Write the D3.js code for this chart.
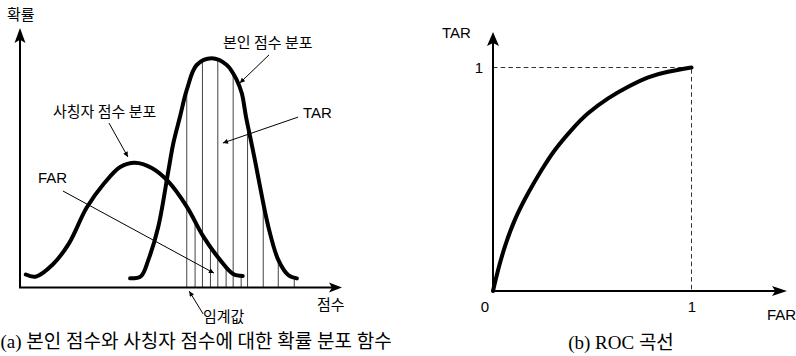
<!DOCTYPE html>
<html>
<head>
<meta charset="utf-8">
<script src="https://cdn.jsdelivr.net/npm/d3@7"></script>
<style>
  html, body { margin: 0; padding: 0; background: #fff; }
  svg { display: block; }
</style>
</head>
<body>
<svg id="chart" width="796" height="356"></svg>
<script>
// ---- (a) score distributions: score 0–10, probability 0–1 ----
const impostorScore = [0.15, 0.45, 1.0, 1.5, 2.05, 2.6, 3.1, 3.56, 4.1, 4.6, 5.18, 5.7, 6.22, 6.63, 6.93];
const impostorProb  = [0.052, 0.043, 0.095, 0.182, 0.33, 0.432, 0.5, 0.518, 0.495, 0.44, 0.335, 0.21, 0.113, 0.054, 0.046];

const genuineScore = [3.41, 3.75, 3.98, 4.29, 4.6, 4.76, 4.97, 5.18, 5.49, 5.96, 6.43, 6.74, 6.9, 7.03, 7.16, 7.31, 7.42, 7.73, 8.04, 8.35, 8.62];
const genuineProb  = [0.036, 0.045, 0.113, 0.251, 0.48, 0.599, 0.71, 0.821, 0.925, 0.953, 0.925, 0.863, 0.807, 0.71, 0.626, 0.529, 0.453, 0.251, 0.113, 0.05, 0.036];

const threshold = 5.18;
// hatching: TAR region (under genuine curve) and FAR region (under impostor curve)
const tarHatch = [5.18, 5.67, 6.15, 6.63, 7.08, 7.57, 8.04, 8.54];
const farHatch = [5.44, 5.92, 6.41, 6.88];

// ---- (b) ROC curve ----
const rocFar = [0, 0.025, 0.059, 0.109, 0.176, 0.244, 0.311, 0.395, 0.479, 0.58, 0.681, 0.782, 0.882, 1];
const rocTar = [0, 0.092, 0.196, 0.316, 0.436, 0.54, 0.63, 0.72, 0.795, 0.862, 0.914, 0.956, 0.981, 1];
const rocTicks = [1];

const impostor = impostorScore.map((s, i) => ({ s, p: impostorProb[i] }));
const genuine = genuineScore.map((s, i) => ({ s, p: genuineProb[i] }));
const roc = rocFar.map((f, i) => ({ f, t: rocTar[i] }));

const SANS = "'Liberation Sans', 'Noto Sans CJK KR', sans-serif";
const KR = "'Noto Sans CJK KR', sans-serif";
const SERIF = "'Liberation Serif', 'Noto Sans CJK KR', serif";

const svg = d3.select("#chart");
const defs = svg.append("defs");

defs.append("marker")
  .attr("id", "tip")
  .attr("viewBox", "0 0 10 10")
  .attr("refX", 10).attr("refY", 5)
  .attr("markerUnits", "userSpaceOnUse")
  .attr("markerWidth", 7).attr("markerHeight", 5)
  .attr("orient", "auto")
  .append("path").attr("d", "M0,0 L10,5 L0,10 Z").attr("fill", "#000");

// filled axis arrowhead with a slight notch, tip at (x, y), pointing at angle (deg)
function axisHead(g, x, y, angle, len, wid) {
  g.append("path")
    .attr("d", `M0,0 L${-len},${-wid / 2} L${-len * 0.78},0 L${-len},${wid / 2} Z`)
    .attr("transform", `translate(${x},${y}) rotate(${angle})`)
    .attr("fill", "#000");
}

// ================= panel (a) =================
const x = d3.scaleLinear([0, 10], [21, 341]);
const y = d3.scaleLinear([0, 1], [287, 47]);
const pa = svg.append("g");

const smooth = d3.curveCatmullRom.alpha(0.5);
const lineA = d3.line().x(d => x(d.s)).y(d => y(d.p)).curve(smooth);
const areaA = d3.area().x(d => x(d.s)).y0(y(0)).y1(d => y(d.p)).curve(smooth);

defs.append("clipPath").attr("id", "clipGen").append("path").attr("d", areaA(genuine));
defs.append("clipPath").attr("id", "clipImp").append("path").attr("d", areaA(impostor));

// hatching
pa.append("g").attr("clip-path", "url(#clipGen)")
  .selectAll("line").data(tarHatch).join("line")
  .attr("x1", d => x(d)).attr("x2", d => x(d))
  .attr("y1", y(0)).attr("y2", y(1.05))
  .attr("stroke", "#444").attr("stroke-width", 1);
pa.append("g").attr("clip-path", "url(#clipImp)")
  .selectAll("line").data(farHatch).join("line")
  .attr("x1", d => x(d)).attr("x2", d => x(d))
  .attr("y1", y(0)).attr("y2", y(1.05))
  .attr("stroke", "#444").attr("stroke-width", 1);

// axes
pa.append("line").attr("x1", 20).attr("x2", 20).attr("y1", 288).attr("y2", 36)
  .attr("stroke", "#000").attr("stroke-width", 2);
pa.append("line").attr("x1", 19).attr("x2", 333).attr("y1", 287.5).attr("y2", 287.5)
  .attr("stroke", "#000").attr("stroke-width", 2);
axisHead(pa, 20, 28, -90, 15, 11);
axisHead(pa, 342, 287.5, 0, 13, 10);

// distributions
[impostor, genuine].forEach(data => {
  pa.append("path").attr("d", lineA(data))
    .attr("fill", "none").attr("stroke", "#000")
    .attr("stroke-width", 4).attr("stroke-linecap", "round");
});

// annotation leaders (score, probability)
const leaders = [
  [[7.75, 0.967], [6.84, 0.85]],
  [[2.75, 0.683], [3.34, 0.542]],
  [[8.66, 0.708], [6.31, 0.6]],
  [[1.31, 0.40], [6.03, 0.058]],
  [[5.69, -0.112], [threshold + 0.08, -0.018]]
];
pa.selectAll(".leader").data(leaders).join("line")
  .attr("class", "leader")
  .attr("x1", d => x(d[0][0])).attr("y1", d => y(d[0][1]))
  .attr("x2", d => x(d[1][0])).attr("y2", d => y(d[1][1]))
  .attr("stroke", "#000").attr("stroke-width", 1)
  .attr("marker-end", "url(#tip)");

const labelsA = [
  { t: "확률", x: 7, y: 20, f: KR, s: 15 },
  { t: "본인 점수 분포", x: 223, y: 48, f: KR, s: 15 },
  { t: "사칭자 점수 분포", x: 53, y: 117, f: KR, s: 15 },
  { t: "TAR", x: 303, y: 118, f: SANS, s: 15 },
  { t: "FAR", x: 38, y: 183, f: SANS, s: 15 },
  { t: "점수", x: 317, y: 310, f: KR, s: 15 },
  { t: "임계값", x: 203, y: 322, f: KR, s: 15 }
];
pa.selectAll(".lab").data(labelsA).join("text")
  .attr("class", "lab")
  .attr("x", d => d.x).attr("y", d => d.y)
  .attr("font-family", d => d.f).attr("font-size", d => d.s)
  .attr("fill", "#000").text(d => d.t);

pa.append("text").attr("x", 0.5).attr("y", 348).attr("text-anchor", "start")
  .attr("font-family", SERIF).attr("font-size", 19)
  .text("(a) 본인 점수와 사칭자 점수에 대한 확률 분포 함수");

// ================= panel (b) =================
const rx = d3.scaleLinear([0, 1], [493, 691.5]);
const ry = d3.scaleLinear([0, 1], [291, 67.5]);
const pb = svg.append("g");

// guide lines at (1,1)
pb.append("path")
  .attr("d", `M${rx(0)},${ry(1)} H${rx(1)} V${ry(0)}`)
  .attr("fill", "none").attr("stroke", "#333").attr("stroke-width", 1)
  .attr("stroke-dasharray", "4.5,3.2");

pb.append("line").attr("x1", rx(0)).attr("x2", rx(0)).attr("y1", ry(0) + 1).attr("y2", 42)
  .attr("stroke", "#000").attr("stroke-width", 2);
pb.append("line").attr("x1", rx(0) - 1).attr("x2", 776).attr("y1", ry(0)).attr("y2", ry(0))
  .attr("stroke", "#000").attr("stroke-width", 2);
axisHead(pb, rx(0), 32, -90, 14, 12);
axisHead(pb, 787, ry(0), 0, 15, 10);

pb.append("path")
  .attr("d", d3.line().x(d => rx(d.f)).y(d => ry(d.t)).curve(d3.curveNatural)(roc))
  .attr("fill", "none").attr("stroke", "#000").attr("stroke-width", 4)
  .attr("stroke-linecap", "round");

// tick labels
const axB = pb.append("g").attr("transform", `translate(0,${ry(0)})`)
  .call(d3.axisBottom(rx).tickValues(rocTicks).tickSize(0).tickPadding(10).tickFormat(d3.format("d")));
const axL = pb.append("g").attr("transform", `translate(${rx(0)},0)`)
  .call(d3.axisLeft(ry).tickValues(rocTicks).tickSize(0).tickPadding(10).tickFormat(d3.format("d")));
[axB, axL].forEach(a => {
  a.select(".domain").remove();
  a.selectAll("text").attr("font-family", SANS).attr("font-size", 15).attr("fill", "#000");
});

const labelsB = [
  { t: "0", x: 485, y: 312, a: "middle" },
  { t: "TAR", x: 442, y: 38, a: "start" },
  { t: "FAR", x: 767, y: 320, a: "start" }
];
pb.selectAll(".lab").data(labelsB).join("text")
  .attr("class", "lab")
  .attr("x", d => d.x).attr("y", d => d.y).attr("text-anchor", d => d.a)
  .attr("font-family", SANS).attr("font-size", 15).attr("fill", "#000").text(d => d.t);

pb.append("text").attr("x", 621).attr("y", 349).attr("text-anchor", "middle")
  .attr("font-family", SERIF).attr("font-size", 19)
  .text("(b) ROC 곡선");
</script>
</body>
</html>
